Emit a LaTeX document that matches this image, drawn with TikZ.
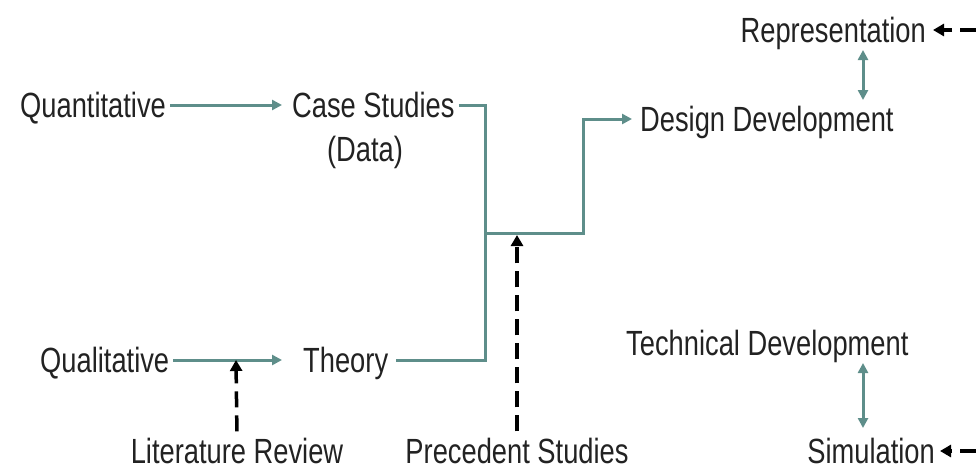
\documentclass[tikz,border=0pt]{standalone}
\usepackage{fontspec}
\setmainfont[FakeStretch=0.78]{Liberation Sans}
\usetikzlibrary{arrows.meta}
\definecolor{tealc}{RGB}{94,142,138}
\definecolor{txt}{RGB}{34,34,34}
\begin{document}
\begin{tikzpicture}[x=1pt,y=-1pt,
  lbl/.style={inner sep=0pt,text height=25pt,text depth=0pt,font=\fontsize{35}{40}\selectfont,text=txt},
  tl/.style={draw=tealc,line width=3pt},
  ta/.style={tl,-{Triangle[length=10pt,width=10pt]}},
  tda/.style={tl,{Triangle[length=10pt,width=10pt]}-{Triangle[length=10pt,width=10pt]}},
  da/.style={draw=black,line width=3.5pt,dash pattern=on 16pt off 8pt,-{Triangle[length=11pt,width=12pt]}}]
\useasboundingbox (0,0) rectangle (976,471);
\node[lbl,anchor=west] (quant) at (20,105) {Quantitative};
\node[lbl,anchor=west] (case) at (292,105) {Case Studies};
\node[lbl] (data) at (365,149) {(Data)};
\node[lbl,anchor=west] (qual) at (40,360) {Qualitative};
\node[lbl,anchor=west] (theory) at (303,360) {Theory};
\node[lbl,anchor=west] (design) at (640,119) {Design Development};
\node[lbl,anchor=east] (rep) at (926,30) {Representation};
\node[lbl,anchor=west] (tech) at (626,343) {Technical Development};
\node[lbl,anchor=east] (sim) at (935,451) {Simulation};
\node[lbl] (lit) at (237,451) {Literature Review};
\node[lbl] (prec) at (517,451) {Precedent Studies};
\coordinate (j) at (485,233);
\coordinate (pj) at (517,233);
\coordinate (lj) at (236,360);
\coordinate (rin) at (976,30);
\coordinate (sin) at (976,451);
\coordinate (r1) at (863,50);
\coordinate (r2) at (863,100);
\coordinate (s1) at (863,363);
\coordinate (s2) at (863,428);
\draw[ta,shorten <=4pt,shorten >=10pt] (quant.east) -- (case.west);
\draw[ta,shorten <=4pt,shorten >=21pt] (qual.east) -- (theory.west);
\draw[tl,shorten <=4pt] (case.east) -| (j);
\draw[tl,shorten <=8pt] (theory.east) -| (j);
\draw[ta,shorten >=8pt] (j) -- ++(98,0) |- (design.west);
\draw[tda] (r1) -- (r2);
\draw[tda] (s1) -- (s2);
\draw[da,shorten <=7pt] (lit.north) -- (lj);
\draw[da,shorten <=7pt,shorten >=2pt] (prec.north) -- (pj);
\draw[da,shorten >=7pt] (rin) -- (rep.east);
\draw[da,shorten >=5pt] (sin) -- (sim.east);
\end{tikzpicture}
\end{document}
